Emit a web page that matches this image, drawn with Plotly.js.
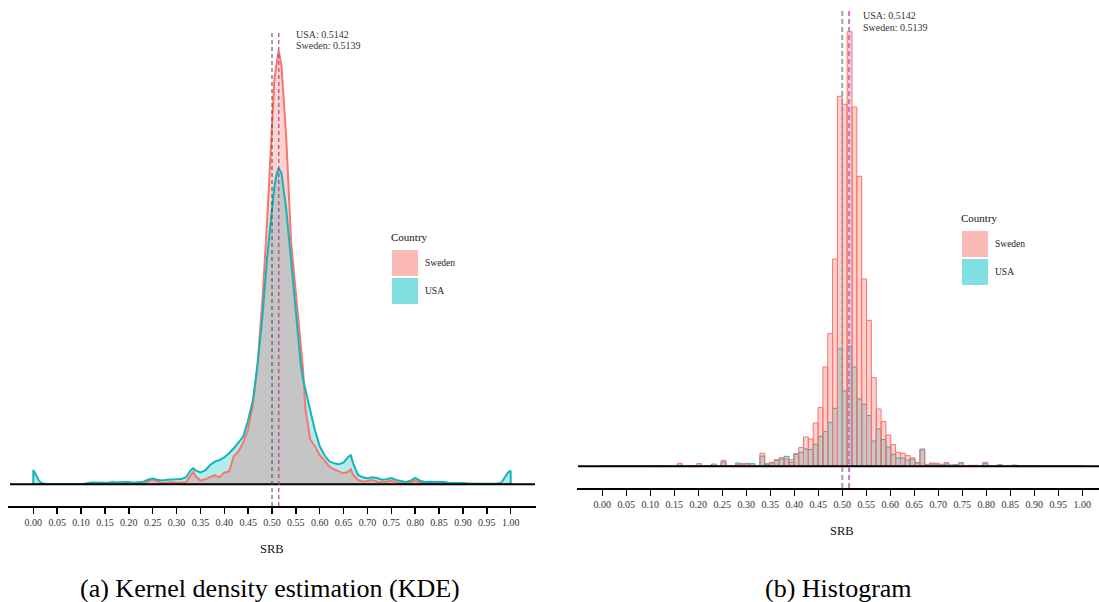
<!DOCTYPE html>
<html>
<head>
<meta charset="utf-8">
<script src="https://cdn.plot.ly/plotly-3.0.1.min.js"></script>
<style>html,body{margin:0;padding:0;background:#fff;}#chart{width:1099px;height:602px;}</style>
</head>
<body>
<div id="chart"></div>
<script>
// ---------- data ----------
const countries = ["Sweden", "USA"];
const meanUSA = 0.5142;
const meanSweden = 0.5139;
const refValue = 0.5;

const tickVals = [0,0.05,0.10,0.15,0.20,0.25,0.30,0.35,0.40,0.45,0.50,0.55,0.60,0.65,0.70,0.75,0.80,0.85,0.90,0.95,1.00];
const tickText = ["0.00","0.05","0.10","0.15","0.20","0.25","0.30","0.35","0.40","0.45","0.50","0.55","0.60","0.65","0.70","0.75","0.80","0.85","0.90","0.95","1.00"];

// KDE (density, arbitrary scale)
const kdeX = [0,0.005,0.01,0.015,0.02,0.03,0.04,0.05,0.06,0.07,0.08,0.09,0.10,0.11,0.12,0.13,0.14,0.15,
  0.16,0.165,0.17,0.18,0.19,0.20,0.21,0.22,0.23,0.24,0.25,0.26,0.27,0.28,0.29,0.30,0.31,0.32,
  0.33,0.335,0.34,0.35,0.36,0.37,0.38,0.39,0.40,0.41,0.42,0.43,0.44,0.45,0.46,
  0.47,0.48,0.49,0.50,0.505,0.51,0.514,0.52,0.53,0.54,0.55,0.56,0.565,
  0.57,0.58,0.59,0.60,0.61,0.62,0.63,0.64,0.65,0.66,0.665,0.67,0.68,0.69,0.70,
  0.71,0.72,0.73,0.74,0.75,0.76,0.77,0.78,0.79,0.80,0.81,0.82,0.83,0.84,0.85,0.86,0.87,0.88,0.89,0.90,0.91,0.92,0.93,0.94,0.95,0.96,0.97,0.98,0.99,0.995,1.00];
const kdeUSA = [14.3,10,5,2,0.8,0.3,0.2,0.2,0.2,0.2,0.2,0.2,0.3,0.8,1.8,1.8,1.5,1.2,
  1.5,1.7,1.8,1.5,2,2.3,1.5,1.7,2.5,4.5,5.7,4.5,3.7,4.5,5,5,5.2,7,
  14,16,14,12,14,19,22.7,24.3,27,31,36,42,48,64,84,
  121,168,228,278,298,311,316,311,274,224,171,121,105,
  94,74,54,38,29,23,21,20,22,27.6,29,21,9.3,7,6,
  7,6.3,4.6,5,6.3,4.3,3,2.3,3.5,6.3,3.6,2.3,2.6,2.6,2.6,2.3,1.6,1.6,1.4,1.2,0.8,0.6,0.6,0.6,0.6,0.6,0.6,1.6,9.3,12,13.6];
const kdeSweden = [0.3,0.3,0.3,0.3,0.3,0.3,0.3,0.3,0.3,0.3,0.3,0.3,0.3,0.3,0.4,0.4,0.5,0.6,
  1.5,2.7,1.5,0.7,1,2,1,0.7,1,3,5,3,1,1.5,2,1.5,1.7,2,
  9,12.3,8,3.7,5,7,9.3,7,11.7,12.7,28,33,42,55,80,
  121,185,265,365,405,422,433.6,418,345,242,190,140,115,
  75,45,38,29,24,17.6,15,12.6,11,12.6,15,9.3,4.3,2.6,3.6,
  4.3,2.6,2,2.5,3.6,1.6,1,1,1.8,3.6,1.6,1,0.7,0.7,0.7,0.7,0.3,0.3,0.3,0.3,0.2,0.2,0.2,0.2,0.2,0.2,0.2,0.2,0.2,0.2,0.2];

// Histogram: 100 bins centred on 0 .. 1 (bin width 1/99)
const binWidth = 1/99;
const histSweden = [0,0,0,0,0,0,0,0,0,0,
  0,0,0.3,0,0,0.3,3,0.3,0.3,0.5,
  2.7,0.7,0.3,0.7,0.7,6,0.5,0.7,1.7,2.7,
  2.3,1,0.7,13,2.7,4,6.7,8.7,7.3,6.7,
  12.7,18.7,29.3,27.3,43.3,58.7,99.3,132.7,207.3,370,
  362,434.6,359.3,290,187.3,146,88.7,57.3,44.7,31.3,
  21.7,14,13,10.7,8.5,4,16.3,2,3.3,3,
  2,3.7,1.3,1,3.3,0.7,1,1,0.5,4,
  0.5,0.3,0.5,0.5,0.3,0.3,0.3,0.3,0.3,0.3,
  0,0,0,0,0,0,0,0,0,0];
const histUSA = [0,0,0,0,0,0,0,0,0,0,
  0.5,0.3,0.5,0.5,0.3,0,1,0.3,0.3,0.3,
  1,0.5,0.5,2.3,0.5,4.3,0.3,0.5,3.3,1.5,
  3,2.7,0.7,10.2,2,3.3,6,7.3,10,4,
  12,14,17.3,16.7,22,30,34.7,44,58,117.3,
  75.3,120,99.3,67.3,62,50.7,25.3,37.3,26.7,19.3,
  12,8.3,8.3,6.3,7.3,3.3,17.3,1.3,2.3,2.3,
  1.3,2.3,1,1.7,3.7,0.7,0.7,0.7,0.5,2.7,
  0.3,0.3,1.7,0.3,0.7,1.3,0.5,0.5,0.5,0.7,
  0.3,0,0,0,0,0,0,0,0,0];

// ---------- styling ----------
const W = 1099, H = 602;
const FONT = "Times New Roman, Liberation Serif, DejaVu Serif, serif";
const RED = "#F8766D";
const px = v => v / W, py = v => 1 - v / H;

const binX = histSweden.map((_, i) => i * binWidth);
const kdeMin = kdeX.map((_, i) => Math.min(kdeSweden[i], kdeUSA[i]));
const histMin = histSweden.map((s, i) => Math.min(s, histUSA[i]));
const edgeX = [kdeX[0], ...kdeX, kdeX[kdeX.length - 1]];
const edge = arr => [0, ...arr, 0];

const traces = [
  {type:'scatter', mode:'lines', x:kdeX, y:kdeSweden, fill:'tozeroy', fillcolor:'rgba(248,118,109,0.32)', line:{width:0}, hoverinfo:'skip', xaxis:'x', yaxis:'y'},
  {type:'scatter', mode:'lines', x:kdeX, y:kdeUSA, fill:'tozeroy', fillcolor:'rgba(0,191,196,0.30)', line:{width:0}, hoverinfo:'skip', xaxis:'x', yaxis:'y'},
  {type:'scatter', mode:'lines', x:kdeX, y:kdeMin, fill:'tozeroy', fillcolor:'#c5c5c5', line:{width:0}, hoverinfo:'skip', xaxis:'x', yaxis:'y'},
  {type:'scatter', mode:'lines', name:'Sweden', x:edgeX, y:edge(kdeSweden), line:{color:RED, width:2}, xaxis:'x', yaxis:'y'},
  {type:'scatter', mode:'lines', name:'USA', x:edgeX, y:edge(kdeUSA), line:{color:'#14b4b8', width:2}, xaxis:'x', yaxis:'y'},

  {type:'bar', x:binX, y:histSweden, width:binWidth, marker:{color:'rgba(248,118,109,0.34)', line:{width:0}}, xaxis:'x2', yaxis:'y2', hoverinfo:'skip'},
  {type:'bar', x:binX, y:histUSA, width:binWidth, marker:{color:'rgba(0,191,196,0.36)', line:{width:0}}, xaxis:'x2', yaxis:'y2', hoverinfo:'skip'},
  {type:'bar', x:binX, y:histMin, width:binWidth, marker:{color:'#c7c7c7', line:{width:0}}, xaxis:'x2', yaxis:'y2', hoverinfo:'skip'},
  {type:'bar', name:'USA', x:binX, y:histUSA, width:binWidth, marker:{color:'rgba(0,0,0,0)', line:{color:'rgba(20,160,165,0.8)', width:1}}, xaxis:'x2', yaxis:'y2'},
  {type:'bar', name:'Sweden', x:binX, y:histSweden, width:binWidth, marker:{color:'rgba(0,0,0,0)', line:{color:'#F8766D', width:1}}, xaxis:'x2', yaxis:'y2'}
];

const xBase = {showline:true, linecolor:'#000', linewidth:2, ticks:'outside', ticklen:6, tickwidth:1.5, tickcolor:'#000',
  tickmode:'array', tickvals:tickVals, ticktext:tickText, tickfont:{family:FONT, size:10, color:'#333'},
  showgrid:false, zeroline:false, fixedrange:true};

function ann(text, x, y, size, xanchor, color) {
  return {text:text, xref:'paper', yref:'paper', x:px(x), y:py(y), xanchor:xanchor, yanchor:'middle',
    showarrow:false, font:{family:FONT, size:size, color:color}};
}
function rect(x0, y0, x1, y1, color) {
  return {type:'rect', xref:'paper', yref:'paper', x0:px(x0), x1:px(x1), y0:py(y1), y1:py(y0), fillcolor:color, line:{width:0}, layer:'above'};
}
function vline(xv, xref, yref, color, width, dash) {
  return {type:'line', xref:xref, yref:yref, x0:xv, x1:xv, y0:0, y1:1, line:{color:color, width:width, dash:dash}, layer:'above'};
}

const layout = {
  width:W, height:H, margin:{l:0, r:0, t:0, b:0}, paper_bgcolor:'#fff', plot_bgcolor:'#fff',
  showlegend:false, barmode:'overlay', bargap:0, font:{family:FONT},
  xaxis: Object.assign({}, xBase, {domain:[px(8), px(536)], range:[-0.053, 1.053], anchor:'y'}),
  yaxis: {domain:[py(506), py(30)], range:[-21.7, 454.3], visible:false, fixedrange:true},
  xaxis2: Object.assign({}, xBase, {domain:[px(577), 1], range:[-0.0527, 1.0348], anchor:'y2'}),
  yaxis2: {domain:[py(488), py(10.7)], range:[-21.7, 455.6], visible:false, fixedrange:true, anchor:'x2'},
  shapes: [
    {type:'line', xref:'paper', yref:'y', x0:px(10), x1:px(535), y0:0, y1:0, line:{color:'#000', width:2}, layer:'above'},
    {type:'line', xref:'paper', yref:'y2', x0:px(578), x1:1, y0:0, y1:0, line:{color:'#000', width:2}, layer:'above'},
    vline(refValue, 'x', 'y domain', '#454545', 1, '4px,3px'),
    vline(meanUSA, 'x', 'y domain', '#a8409c', 1.2, '4px,3px'),
    vline(refValue, 'x2', 'y2 domain', '#9a9a9a', 1.8, '5px,3px'),
    vline(meanUSA, 'x2', 'y2 domain', '#c877c4', 2, '5px,3px'),
    rect(392, 250, 418, 276, 'rgba(248,118,109,0.5)'),
    rect(392, 278, 418, 304, 'rgba(0,191,196,0.5)'),
    rect(962, 231, 988, 257, 'rgba(248,118,109,0.5)'),
    rect(962, 259, 988, 285, 'rgba(0,191,196,0.5)')
  ],
  annotations: [
    ann('USA: ' + meanUSA.toFixed(4), 294, 34, 10, 'left', '#333'),
    ann('Sweden: ' + meanSweden.toFixed(4), 294, 46, 10, 'left', '#333'),
    ann('USA: ' + meanUSA.toFixed(4), 861, 15.7, 10, 'left', '#333'),
    ann('Sweden: ' + meanSweden.toFixed(4), 861, 27.3, 10, 'left', '#333'),
    ann('Country', 389, 237, 11, 'left', '#111'),
    ann(countries[0], 423, 263, 9.5, 'left', '#222'),
    ann(countries[1], 423, 291, 9.5, 'left', '#222'),
    ann('Country', 959, 218, 11, 'left', '#111'),
    ann(countries[0], 993, 244, 9.5, 'left', '#222'),
    ann(countries[1], 993, 272, 9.5, 'left', '#222'),
    ann('SRB', 272, 549, 12.5, 'center', '#111'),
    ann('SRB', 842, 531, 12.5, 'center', '#111'),
    ann('(a) Kernel density estimation (KDE)', 270, 588, 26, 'center', '#000'),
    ann('(b) Histogram', 838, 588, 26, 'center', '#000')
  ]
};

Plotly.newPlot('chart', traces, layout, {staticPlot:true, displayModeBar:false});
</script>
</body>
</html>
